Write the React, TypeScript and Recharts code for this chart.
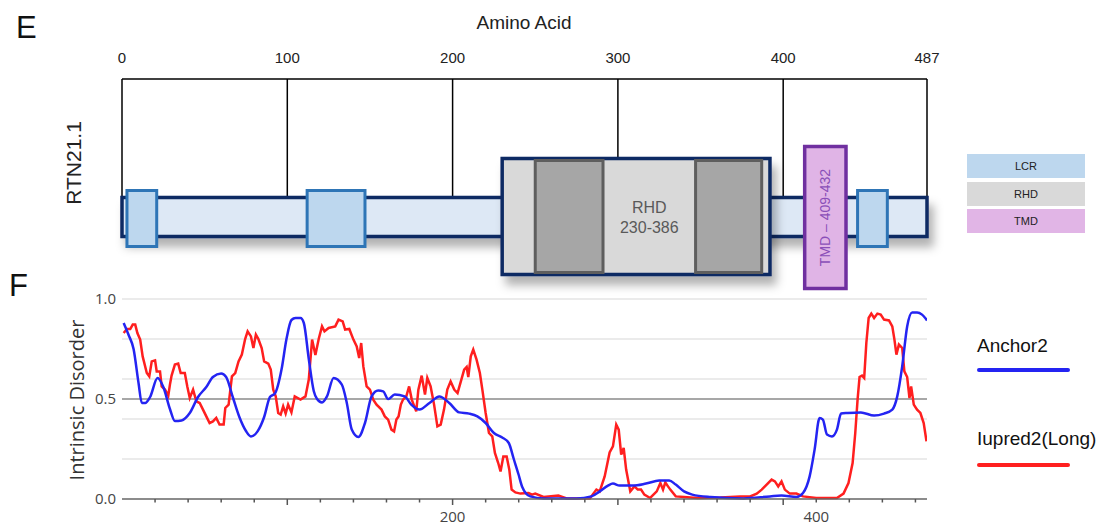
import React from "react";
import { ComposedChart, LineChart, Line, XAxis, YAxis, ReferenceArea, ReferenceLine } from "recharts";

// panel E: protein map
const PROTEIN_LENGTH = 487;
const AA_TICKS = [0, 100, 200, 300, 400, 487];
const LCR_REGIONS = [[3, 21], [112, 147], [445, 463]];
const RHD_REGION = [230, 392];
const RHD_BLOCKS = [[250, 291], [347, 387]];
const TMD_REGION = [413, 438];
const RHD_TEXT = ["RHD", "230-386"];
const TMD_TEXT = "TMD \u2013 409-432";
const DOMAIN_LEGEND = ["LCR", "RHD", "TMD"];

// panel F: disorder profiles, [residue, score]
const ANCHOR2 = [
  [1, 0.88], [4, 0.82], [7, 0.75], [10, 0.58], [12, 0.48], [14, 0.48], [17, 0.51], [21.5, 0.605],
  [25, 0.56], [29, 0.45], [32, 0.39], [36, 0.393], [41, 0.43], [46, 0.51], [51, 0.56], [55, 0.61],
  [60, 0.627], [63, 0.61], [67, 0.51], [71, 0.41], [75, 0.34], [78, 0.313], [82, 0.338], [86, 0.41],
  [89.5, 0.51], [92.5, 0.527], [96.5, 0.647], [99.5, 0.8], [102.5, 0.895], [105, 0.905], [108, 0.905],
  [110, 0.88], [113, 0.7], [116, 0.54], [118, 0.5], [121, 0.483], [124, 0.513], [128, 0.605],
  [133, 0.572], [136, 0.48], [139, 0.347], [143, 0.31], [147, 0.38], [151, 0.513], [155, 0.542],
  [158, 0.538], [161, 0.5], [165, 0.522], [171, 0.513], [175, 0.472], [180, 0.447], [186, 0.48],
  [192, 0.513], [198, 0.48], [204, 0.433], [210, 0.427], [215, 0.413], [220, 0.38], [225, 0.33],
  [230, 0.308], [234, 0.28], [237, 0.2], [240, 0.12], [242, 0.063], [247, 0.013], [255, 0.003],
  [275, 0.003], [284, 0.013], [289, 0.038], [294, 0.067], [297, 0.077], [301, 0.067], [309, 0.067],
  [317, 0.077], [325, 0.092], [331, 0.093], [335, 0.072], [340, 0.038], [345, 0.022], [356, 0.01],
  [376, 0.003], [392, 0.013], [399, 0.017], [408, 0.01], [412, 0.03], [416, 0.113], [419, 0.247],
  [422, 0.405], [424, 0.397], [426.5, 0.322], [429.5, 0.313], [432.5, 0.347], [435, 0.427],
  [439, 0.43], [447, 0.433], [455, 0.417], [461, 0.427], [466, 0.447], [469, 0.513], [472, 0.663],
  [475, 0.863], [478, 0.933], [481, 0.933], [484, 0.922], [487, 0.893],
];

const IUPRED2_LONG = [
  [1, 0.83], [3, 0.85], [5, 0.85], [6.5, 0.872], [8, 0.872], [9.3, 0.83], [11, 0.797], [12.5, 0.713],
  [15, 0.63], [16.5, 0.613], [18, 0.688], [20, 0.693], [21, 0.638], [23, 0.638], [24, 0.563],
  [26, 0.547], [28, 0.517], [29, 0.572], [30, 0.617], [32, 0.672], [34, 0.677], [35.5, 0.63],
  [38, 0.63], [39.5, 0.563], [41, 0.505], [43, 0.547], [45, 0.488], [47, 0.48], [49, 0.447],
  [51, 0.413], [53, 0.38], [55, 0.388], [57, 0.405], [59, 0.372], [61.5, 0.372], [62.5, 0.455],
  [64.5, 0.472], [66.5, 0.613], [68.5, 0.63], [70.5, 0.688], [72.5, 0.722], [74.5, 0.8], [76, 0.838],
  [78, 0.813], [79.5, 0.755], [81, 0.822], [82.5, 0.8], [84.5, 0.755], [86, 0.688], [88.5, 0.677],
  [90, 0.647], [91.5, 0.547], [93, 0.513], [94.5, 0.43], [96, 0.422], [97.5, 0.463], [99, 0.427],
  [100.5, 0.472], [102.5, 0.433], [104.5, 0.513], [108, 0.497], [111, 0.513], [113, 0.597],
  [115, 0.797], [117, 0.72], [119, 0.8], [121, 0.863], [122.5, 0.838], [125, 0.855], [129, 0.863],
  [131, 0.897], [133.5, 0.888], [135, 0.847], [137.5, 0.85], [140, 0.797], [142, 0.763],
  [143.5, 0.705], [144.7, 0.78], [146, 0.663], [148, 0.563], [150, 0.547], [152, 0.497], [154, 0.472],
  [157, 0.447], [159, 0.413], [161, 0.397], [163, 0.347], [164.6, 0.338], [166, 0.397], [167.3, 0.413],
  [168.7, 0.472], [170, 0.497], [172, 0.513], [173.7, 0.563], [175.3, 0.497], [178, 0.438],
  [179.3, 0.547], [181.3, 0.617], [183.3, 0.522], [184.7, 0.605], [186.7, 0.563], [188.8, 0.472],
  [190.8, 0.363], [192.8, 0.372], [194.8, 0.447], [196.8, 0.547], [198.8, 0.588], [201, 0.547],
  [203, 0.53], [205, 0.588], [207, 0.647], [208.5, 0.66], [209.5, 0.61], [211, 0.713], [212.5, 0.747],
  [214.5, 0.697], [216.5, 0.63], [218, 0.547], [220, 0.43], [222, 0.33], [224, 0.313], [225.6, 0.23],
  [227.6, 0.18], [229, 0.138], [230.7, 0.213], [232.7, 0.213], [234.3, 0.147], [235.7, 0.047],
  [238, 0.033], [241, 0.027], [246, 0.03], [248, 0.022], [250, 0.027], [255, 0.01], [264, 0.017],
  [269, 0.003], [283, 0.003], [287, 0.047], [289, 0.038], [292, 0.113], [295, 0.233], [297, 0.263],
  [299, 0.372], [300.5, 0.347], [302, 0.222], [303.5, 0.255], [305, 0.147], [307.5, 0.038],
  [310, 0.063], [312, 0.047], [314, 0.047], [316, 0.022], [319.5, 0.005], [323.5, 0.038],
  [325.7, 0.08], [327.3, 0.047], [328.7, 0.083], [330, 0.067], [331.7, 0.047], [335, 0.013],
  [340, 0.01], [348, 0.005], [362, 0.007], [374, 0.013], [380, 0.013], [384, 0.027], [387, 0.047],
  [390, 0.072], [393, 0.097], [395, 0.088], [397, 0.063], [399, 0.088], [401, 0.047], [404, 0.027],
  [408, 0.027], [412, 0.013], [420, 0.005], [432.5, 0.005], [436.5, 0.027], [439.5, 0.08],
  [442, 0.18], [443.6, 0.33], [445, 0.497], [446.2, 0.61], [447.7, 0.617], [449, 0.605], [450.3, 0.78],
  [451.7, 0.905], [453.3, 0.927], [455, 0.905], [457, 0.927], [459, 0.922], [461, 0.897], [464, 0.893],
  [466, 0.863], [467.3, 0.797], [468.5, 0.722], [470, 0.772], [472, 0.755], [473.3, 0.638], [475, 0.61],
  [476.4, 0.505], [477.4, 0.563], [479, 0.472], [481, 0.447], [483, 0.43], [485, 0.38], [486.7, 0.288],
];

const DISORDER_X_TICKS = [20, 40, 60, 80, 100, 120, 140, 160, 180, 200, 220, 240, 260, 280, 300, 320, 340, 360, 380, 400, 420, 440, 460, 480];
const DISORDER_MAJOR_TICKS = [100, 200, 300, 400];
const DISORDER_X_LABELS: Record<number, string> = { 200: "200", 420: "400" };
const DISORDER_Y_TICKS = [0, 0.5, 1];
const DISORDER_GRID = [0.2, 0.4, 0.6, 0.8, 1];
const SERIES_NAMES = ["Anchor2", "Iupred2(Long)"];

const toPoints = (rows: number[][]) => rows.map(([aa, score]) => ({ aa, score }));
const anchorData = toPoints(ANCHOR2);
const iupredData = toPoints(IUPRED2_LONG);

const ARIAL = "'Liberation Sans', Arial, sans-serif";
const OPEN = "'Open Sans', 'Noto Sans', sans-serif";

// vertical layout of the map, in px below the axis line
const MAP_DEPTH = 221;
const BAR = [117, 159];
const LCR_Y = [110, 169];
const RHD_Y = [78, 197];
const TMD_Y = [66, 211];

const LEGEND_COLORS: Record<string, string> = { LCR: "#bdd7ee", RHD: "#d9d9d9", TMD: "#e1b5e6" };

const RhdText = ({ viewBox }: any) => {
  const cx = viewBox.x + viewBox.width / 2;
  const cy = viewBox.y + viewBox.height / 2;
  return (
    <text textAnchor="middle" fill="#595959" fontSize={16} fontFamily={ARIAL}>
      <tspan x={cx} y={cy - 4}>{RHD_TEXT[0]}</tspan>
      <tspan x={cx} y={cy + 16}>{RHD_TEXT[1]}</tspan>
    </text>
  );
};

const TmdText = ({ viewBox }: any) => {
  const cx = viewBox.x + viewBox.width / 2;
  const cy = viewBox.y + viewBox.height / 2;
  return (
    <text x={cx} y={cy} transform={`rotate(-90 ${cx} ${cy})`} textAnchor="middle" dominantBaseline="central"
      fill="#8a4fb8" fontSize={14} fontFamily={ARIAL}>
      {TMD_TEXT}
    </text>
  );
};

const DisorderTick = ({ x, y, payload }: any) => {
  const major = DISORDER_MAJOR_TICKS.includes(payload.value);
  const label = DISORDER_X_LABELS[payload.value];
  return (
    <g>
      <line x1={x} x2={x} y1={y} y2={y + (major ? 6 : 3.5)} stroke="#555" strokeWidth={1.5} />
      {label && (
        <text x={x} y={y + 23} textAnchor="middle" fill="#444" fontSize={15} fontFamily={OPEN}>{label}</text>
      )}
    </g>
  );
};

const ProteinMap = () => (
  <ComposedChart
    width={1107}
    height={300}
    data={AA_TICKS.map((aa) => ({ aa }))}
    margin={{ top: 49, right: 180, bottom: 0, left: 122 }}
    style={{ position: "absolute", left: 0, top: 0 }}
  >
    <defs>
      <filter id="mapShadow" x="-10%" y="-40%" width="130%" height="220%">
        <feDropShadow dx="5" dy="9" stdDeviation="5" floodColor="#000" floodOpacity="0.3" />
      </filter>
    </defs>
    <XAxis
      type="number"
      dataKey="aa"
      orientation="top"
      domain={[0, PROTEIN_LENGTH]}
      ticks={AA_TICKS}
      interval={0}
      height={30}
      tickLine={false}
      tickSize={0}
      tickMargin={16}
      axisLine={{ stroke: "#000", strokeWidth: 1.5 }}
      tick={{ fill: "#222", fontSize: 15, fontFamily: ARIAL }}
      allowDataOverflow
    />
    <YAxis type="number" domain={[0, MAP_DEPTH]} reversed hide allowDataOverflow />
    {AA_TICKS.map((t) => (
      <ReferenceLine key={t} segment={[{ x: t, y: 0 }, { x: t, y: BAR[0] }]} stroke="#000" strokeWidth={1.5} zIndex={50} ifOverflow="visible" />
    ))}
    <ReferenceArea x1={0} x2={PROTEIN_LENGTH} y1={BAR[0] + 1.5} y2={BAR[1] - 1.5} fill="#dde8f5" fillOpacity={1}
      stroke="#0d2a63" strokeWidth={3.5} filter="url(#mapShadow)" ifOverflow="visible" />
    {LCR_REGIONS.slice(0, 2).map(([a, b]) => (
      <ReferenceArea key={a} x1={a} x2={b} y1={LCR_Y[0] + 1.5} y2={LCR_Y[1] - 1.5} fill="#bdd7ee" fillOpacity={1}
        stroke="#2e75b6" strokeWidth={3} ifOverflow="visible" />
    ))}
    <ReferenceArea x1={RHD_REGION[0]} x2={RHD_REGION[1]} y1={RHD_Y[0] + 1.5} y2={RHD_Y[1] - 1.5} fill="#d9d9d9" fillOpacity={1}
      stroke="#0d2a63" strokeWidth={3.5} filter="url(#mapShadow)" ifOverflow="visible" />
    {RHD_BLOCKS.map(([a, b]) => (
      <ReferenceArea key={a} x1={a} x2={b} y1={RHD_Y[0] + 3.5} y2={RHD_Y[1] - 3.5} fill="#a6a6a6" fillOpacity={1}
        stroke="#5e5e5e" strokeWidth={3} ifOverflow="visible" />
    ))}
    <ReferenceArea x1={RHD_BLOCKS[0][1]} x2={RHD_BLOCKS[1][0]} y1={RHD_Y[0]} y2={RHD_Y[1]} fill="none" stroke="none"
      ifOverflow="visible" label={<RhdText />} />
    <ReferenceArea x1={TMD_REGION[0]} x2={TMD_REGION[1]} y1={TMD_Y[0] + 1.5} y2={TMD_Y[1] - 1.5} fill="#e0b4e6" fillOpacity={1}
      stroke="#7030a0" strokeWidth={3.5} ifOverflow="visible" label={<TmdText />} />
    {LCR_REGIONS.slice(2).map(([a, b]) => (
      <ReferenceArea key={a} x1={a} x2={b} y1={LCR_Y[0] + 1.5} y2={LCR_Y[1] - 1.5} fill="#bdd7ee" fillOpacity={1}
        stroke="#2e75b6" strokeWidth={3} ifOverflow="visible" />
    ))}
  </ComposedChart>
);

const DisorderPlot = () => (
  <LineChart
    width={1107}
    height={248}
    margin={{ top: 19, right: 180, bottom: 0, left: 0 }}
    style={{ position: "absolute", left: 0, top: 280 }}
  >
    <XAxis
      type="number"
      dataKey="aa"
      domain={[0, PROTEIN_LENGTH]}
      ticks={DISORDER_X_TICKS}
      interval={0}
      height={29}
      tickLine={false}
      tickSize={0}
      tickMargin={0}
      axisLine={{ stroke: "#666", strokeWidth: 1.5 }}
      tick={<DisorderTick />}
      allowDataOverflow
    />
    <YAxis
      type="number"
      domain={[0, 1]}
      ticks={DISORDER_Y_TICKS}
      interval={0}
      width={122}
      axisLine={false}
      tickLine={false}
      tickSize={0}
      tickMargin={6}
      tickFormatter={(v: number) => v.toFixed(1)}
      tick={{ fill: "#444", fontSize: 15, fontFamily: OPEN }}
    />
    {DISORDER_GRID.map((v) => (
      <ReferenceLine key={v} y={v} stroke="#e4e4e4" strokeWidth={1.5} zIndex={-100} />
    ))}
    <ReferenceLine y={0.5} stroke="#8a8a8a" strokeWidth={1.5} zIndex={-90} />
    <Line data={iupredData} dataKey="score" type="linear" stroke="#ff1f1f" strokeWidth={2.5} dot={false} isAnimationActive={false} />
    <Line data={anchorData} dataKey="score" type="monotone" stroke="#2424f2" strokeWidth={2.5} dot={false} isAnimationActive={false} />
  </LineChart>
);

export default function App() {
  return (
    <div style={{ position: "absolute", left: 0, top: 0, width: 1107, height: 528, background: "#fff", overflow: "hidden", fontFamily: ARIAL }}>
      <div style={{ position: "absolute", left: 16, top: 10, fontSize: 31, color: "#111" }}>E</div>
      <div style={{ position: "absolute", left: 9, top: 268, fontSize: 31, color: "#111" }}>F</div>
      <div style={{ position: "absolute", left: 424, width: 200, top: 12, textAlign: "center", fontSize: 19, color: "#222" }}>Amino Acid</div>
      <div style={{ position: "absolute", left: 74, top: 163, transform: "translate(-50%, -50%) rotate(-90deg)", fontSize: 21, color: "#222", whiteSpace: "nowrap" }}>RTN21.1</div>
      <ProteinMap />
      {DOMAIN_LEGEND.map((name, i) => (
        <div key={name} style={{ position: "absolute", left: 967, top: 154 + i * 27.5, width: 118, height: 24, background: LEGEND_COLORS[name],
          fontSize: 11, color: "#222", lineHeight: "24px", textAlign: "center" }}>{name}</div>
      ))}
      <DisorderPlot />
      <div style={{ position: "absolute", left: 76, top: 400, transform: "translate(-50%, -50%) rotate(-90deg)", fontSize: 20, color: "#333", fontFamily: OPEN, whiteSpace: "nowrap" }}>Intrinsic Disorder</div>
      {SERIES_NAMES.map((name, i) => (
        <React.Fragment key={name}>
          <div style={{ position: "absolute", left: 977, top: 335 + i * 93, fontSize: 19, color: "#111", whiteSpace: "nowrap" }}>{name}</div>
          <div style={{ position: "absolute", left: 977, top: 368 + i * 95, width: 93, height: 4, borderRadius: 2, background: i === 0 ? "#2424f2" : "#ff1f1f" }} />
        </React.Fragment>
      ))}
    </div>
  );
}
